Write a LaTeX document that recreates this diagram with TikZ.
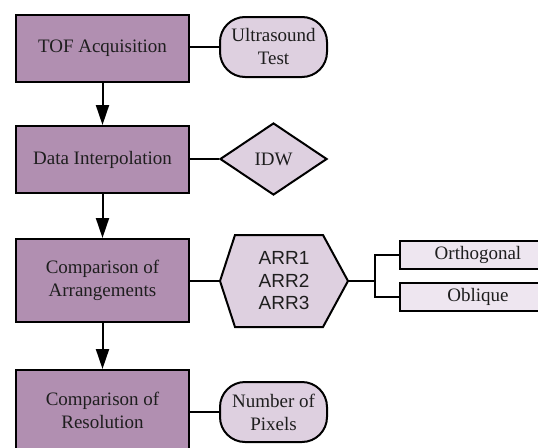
\documentclass[tikz,border=0pt]{standalone}
\usepackage{fontspec}
\setmainfont{Liberation Serif}
\setsansfont{Liberation Sans}
\usetikzlibrary{shapes.geometric,arrows.meta}
\definecolor{darkfill}{HTML}{B18FB1}
\definecolor{lightfill}{HTML}{DED0E0}
\definecolor{palefill}{HTML}{EEE6F0}
\definecolor{txt}{HTML}{1E1E1E}
\tikzset{
  base/.style={draw=black, line width=2pt, text=txt, font=\fontsize{19}{23}\selectfont, align=center, inner sep=0pt},
  mainbox/.style={base, rectangle, fill=darkfill, minimum width=173pt},
  pill/.style={base, rectangle, rounded corners=25pt, fill=lightfill, minimum width=107pt, minimum height=60pt},
  dia/.style={base, diamond, fill=lightfill, minimum width=107pt, minimum height=72pt, aspect=1.5},
  leaf/.style={base, rectangle, fill=palefill, minimum width=156pt, minimum height=28pt},
  conn/.style={line width=2pt, draw=black},
  flow/.style={conn, -{Triangle[length=20pt,width=13pt]}}
}
\begin{document}
\begin{tikzpicture}[x=1pt,y=-1pt]
\useasboundingbox (0,0) rectangle (538,447);
\begin{scope}
\clip (0,0) rectangle (538,447);
\node[mainbox, minimum height=67pt] (tof) at (102.5,48.5) {TOF Acquisition};
\node[pill] (us) at (273.5,47) {Ultrasound\\Test};
\node[mainbox, minimum height=67pt] (di) at (102.5,159.5) {Data Interpolation};
\node[dia] (idw) at (273.5,159) {IDW};
\node[mainbox, minimum height=83pt] (cmp) at (102.5,280.5) {Comparison of\\Arrangements};
\coordinate (arrL) at (220,281);
\coordinate (arrR) at (348,281);
\filldraw[conn, fill=lightfill, line join=miter] (arrL) -- (235,235) -- (323,235) -- (arrR) -- (323,327) -- (235,327) -- cycle;
\node[base, draw=none, font=\sffamily\fontsize{19}{22.5}\selectfont] (arr) at (284,281) {ARR1\\ARR2\\ARR3};
\node[leaf] (orth) at (478,255) {Orthogonal};
\node[leaf] (obl) at (478,296.5) {Oblique};
\coordinate (fork) at (375,281);
\node[mainbox, minimum height=80pt] (res) at (102.5,410) {Comparison of\\Resolution};
\node[pill] (pix) at (273.5,412) {Number of\\Pixels};

\draw[flow] (tof) -- (di);
\draw[flow] (di) -- (cmp);
\draw[flow] (cmp) -- (res);
\draw[conn] (tof.east |- us.west) -- (us.west);
\draw[conn] (di.east |- idw.west) -- (idw.west);
\draw[conn] (cmp.east |- arrL) -- (arrL);
\draw[conn] (arrR) -- (fork);
\draw[conn] (orth.west) -| (fork) |- (obl.west);
\draw[conn] (res.east |- pix) -- (pix.west);
\end{scope}
\end{tikzpicture}
\end{document}
